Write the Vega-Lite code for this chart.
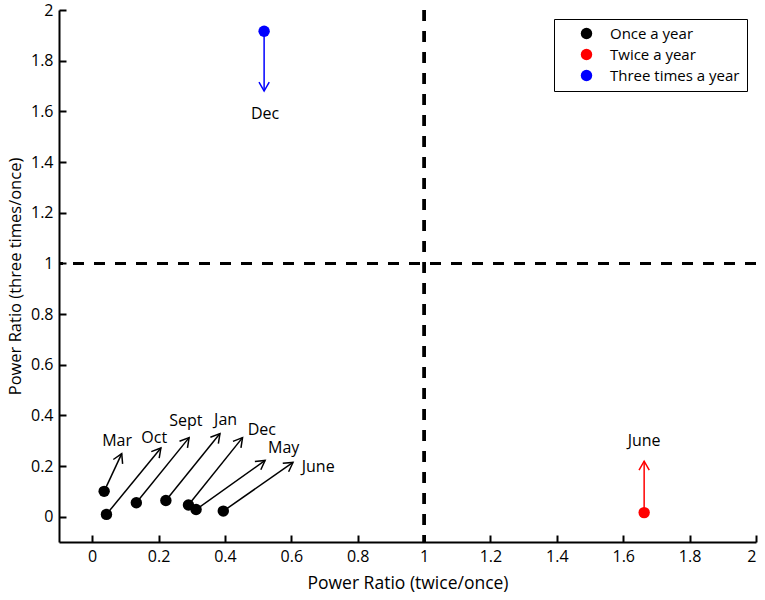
{
  "$schema": "https://vega.github.io/schema/vega-lite/v6.json",
  "width": 697,
  "height": 532,
  "autosize": {"type": "none"},
  "padding": {"left": 59, "top": 10, "right": 9, "bottom": 58},
  "datasets": {
    "arrows": [
      {"month": "Mar", "freq": "Once a year", "x": 0.036, "y": 0.100, "xe": 0.089, "ye": 0.249, "lx": 0.075, "ly": 0.298},
      {"month": "Oct", "freq": "Once a year", "x": 0.043, "y": 0.009, "xe": 0.207, "ye": 0.271, "lx": 0.187, "ly": 0.312},
      {"month": "Sept", "freq": "Once a year", "x": 0.133, "y": 0.055, "xe": 0.292, "ye": 0.312, "lx": 0.282, "ly": 0.377},
      {"month": "Jan", "freq": "Once a year", "x": 0.222, "y": 0.064, "xe": 0.385, "ye": 0.328, "lx": 0.402, "ly": 0.383},
      {"month": "Dec", "freq": "Once a year", "x": 0.290, "y": 0.046, "xe": 0.453, "ye": 0.312, "lx": 0.511, "ly": 0.342},
      {"month": "May", "freq": "Once a year", "x": 0.313, "y": 0.028, "xe": 0.521, "ye": 0.222, "lx": 0.577, "ly": 0.272},
      {"month": "June", "freq": "Once a year", "x": 0.395, "y": 0.022, "xe": 0.605, "ye": 0.214, "lx": 0.681, "ly": 0.196},
      {"month": "June", "freq": "Twice a year", "x": 1.663, "y": 0.016, "xe": 1.663, "ye": 0.219, "lx": 1.663, "ly": 0.298},
      {"month": "Dec", "freq": "Three times a year", "x": 0.518, "y": 1.916, "xe": 0.518, "ye": 1.680, "lx": 0.521, "ly": 1.591}
    ]
  },
  "data": {"name": "arrows"},
  "transform": [
    {"calculate": "atan2((datum.xe - datum.x) * 332, (datum.ye - datum.y) * 253.3) * 180 / PI", "as": "heading"}
  ],
  "layer": [
    {
      "mark": {"type": "rule", "color": "black", "strokeWidth": 2.5, "strokeDash": [11, 10]},
      "encoding": {"x": {"datum": 1, "type": "quantitative"}}
    },
    {
      "mark": {"type": "rule", "color": "black", "strokeWidth": 2.5, "strokeDash": [11, 10]},
      "encoding": {"y": {"datum": 1, "type": "quantitative"}}
    },
    {
      "mark": {"type": "rule", "strokeWidth": 1.5},
      "encoding": {
        "x": {"field": "x", "type": "quantitative"},
        "y": {"field": "y", "type": "quantitative"},
        "x2": {"field": "xe"},
        "y2": {"field": "ye"},
        "color": {"field": "freq", "type": "nominal"}
      }
    },
    {
      "mark": {"type": "point", "filled": false, "strokeWidth": 1.5, "size": 420, "shape": "M -0.5 0.87 L 0 0 L 0.5 0.87", "opacity": 1},
      "encoding": {
        "x": {"field": "xe", "type": "quantitative"},
        "y": {"field": "ye", "type": "quantitative"},
        "angle": {"field": "heading", "type": "quantitative", "scale": null},
        "color": {"field": "freq", "type": "nominal"}
      }
    },
    {
      "mark": {"type": "point", "filled": true, "size": 130, "opacity": 1, "shape": "circle"},
      "encoding": {
        "x": {
          "field": "x", "type": "quantitative",
          "scale": {"domain": [-0.1, 2], "nice": false, "zero": false},
          "axis": {"title": "Power Ratio (twice/once)", "values": [0, 0.2, 0.4, 0.6, 0.8, 1, 1.2, 1.4, 1.6, 1.8, 2], "format": "~g", "titlePadding": 10}
        },
        "y": {
          "field": "y", "type": "quantitative",
          "scale": {"domain": [-0.1, 2], "nice": false, "zero": false},
          "axis": {"title": "Power Ratio (three times/once)", "values": [0, 0.2, 0.4, 0.6, 0.8, 1, 1.2, 1.4, 1.6, 1.8, 2], "format": "~g", "titlePadding": 7, "titleFontSize": 16.5}
        },
        "color": {
          "field": "freq", "type": "nominal",
          "scale": {"domain": ["Once a year", "Twice a year", "Three times a year"], "range": ["#000000", "#ff0000", "#0000ff"]},
          "legend": {
            "title": null, "orient": "top-right", "offset": 9,
            "strokeColor": "black", "padding": 7,
            "symbolType": "circle", "symbolSize": 130, "symbolOffset": 18,
            "symbolStrokeWidth": 0,
            "labelOffset": 16, "labelFontSize": 15, "labelFont": "Open Sans",
            "labelColor": "black", "rowPadding": 5, "fillColor": "white",
            "encode": {"legend": {"update": {"strokeWidth": {"value": 2.5}}}}
          }
        }
      }
    },
    {
      "mark": {"type": "text", "font": "Open Sans", "fontSize": 16, "color": "black", "align": "center", "baseline": "middle"},
      "encoding": {
        "x": {"field": "lx", "type": "quantitative"},
        "y": {"field": "ly", "type": "quantitative"},
        "text": {"field": "month"}
      }
    }
  ],
  "config": {
    "view": {"stroke": null},
    "axis": {
      "grid": false,
      "domainColor": "black",
      "domainWidth": 2,
      "tickColor": "black",
      "tickWidth": 2,
      "tickSize": -7,
      "labelPadding": 13,
      "labelFont": "Open Sans",
      "labelFontSize": 16,
      "labelColor": "black",
      "titleFont": "Open Sans",
      "titleFontSize": 17.5,
      "titleFontWeight": "normal",
      "titleColor": "black"
    }
  }
}
